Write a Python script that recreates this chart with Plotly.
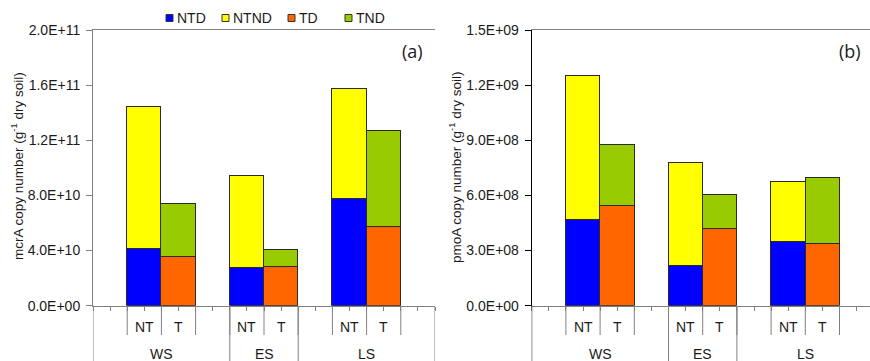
import plotly.graph_objects as go

# ---- data ----
seasons = ["WS", "ES", "LS"]
treatments = ["NT", "T"]
series_names = ["NTD", "NTND", "TD", "TND"]
series_colors = ["#0000FF", "#FFFF00", "#FF6600", "#99CC00"]

mcra_NTD = [4.10e10, 2.72e10, 7.74e10]
mcra_NTND = [1.028e11, 6.66e10, 8.00e10]
mcra_TD = [3.56e10, 2.79e10, 5.70e10]
mcra_TND = [3.84e10, 1.26e10, 6.98e10]

pmoa_NTD = [4.64e8, 2.15e8, 3.44e8]
pmoa_NTND = [7.85e8, 5.62e8, 3.27e8]
pmoa_TD = [5.44e8, 4.15e8, 3.36e8]
pmoa_TND = [3.29e8, 1.87e8, 3.61e8]

mcra_ticks = [0, 4.0e10, 8.0e10, 1.2e11, 1.6e11, 2.0e11]
pmoa_ticks = [0, 3.0e8, 6.0e8, 9.0e8, 1.2e9, 1.5e9]

# ---- layout helpers ----
W, H = 870, 361
FONT = "Liberation Sans, Arial, sans-serif"
TXT = "#1a1a1a"

def px_x(p):
    return p / W

def px_y(p):
    return (H - p) / H

def label(xref, x, y, text, size=14, family=FONT, xanchor="center", angle=0):
    return dict(xref=xref, yref="paper", x=x, y=y, text=text, showarrow=False,
                xanchor=xanchor, yanchor="middle", textangle=angle,
                font=dict(family=family, size=size, color=TXT))

# category slot positions: each season occupies NT, T with one empty slot between groups
nt_pos = [3 * i + 1 for i in range(len(seasons))]
t_pos = [3 * i + 2 for i in range(len(seasons))]

fig = go.Figure()

panels = [
    ("x", "y", [mcra_NTD, mcra_NTND, mcra_TD, mcra_TND]),
    ("x2", "y2", [pmoa_NTD, pmoa_NTND, pmoa_TD, pmoa_TND]),
]
for xa, ya, vals in panels:
    for k, (name, col, v) in enumerate(zip(series_names, series_colors, vals)):
        xs = nt_pos if k < 2 else t_pos
        fig.add_trace(go.Bar(
            x=xs, y=v, name=name, xaxis=xa, yaxis=ya, width=1.0,
            marker=dict(color=col, line=dict(color="#2a2a2a", width=1)),
            showlegend=False,
        ))

dom_a = [px_x(93), px_x(435)]
dom_b = [px_x(531.7), 1.0]
dom_y = [px_y(305.7), px_y(30)]

slot_px = (435 - 93) / 10.0
xr_a = [-0.5, 9.5]
xr_b = [-0.5, -0.5 + (870 - 531.7) / slot_px]

def xaxis_cfg(dom, rng, anchor):
    return dict(domain=dom, range=rng, showgrid=False, zeroline=False,
                showline=True, linecolor="#808080", linewidth=1, mirror=True,
                ticks="outside", ticklen=4, tickcolor="#808080",
                tick0=-0.5, dtick=0.5, showticklabels=False, fixedrange=True,
                anchor=anchor)

def yaxis_cfg(dom, rng, tv, linecol, anchor):
    return dict(domain=dom, range=rng, showgrid=False, zeroline=False,
                showline=True, linecolor=linecol, linewidth=1, mirror=False,
                ticks="outside", ticklen=6, tickcolor=linecol,
                tickvals=tv, ticktext=[f"{t:.1E}" for t in tv],
                tickfont=dict(family=FONT, size=14, color=TXT),
                ticklabelstandoff=3,
                anchor=anchor, automargin=False)

fig.update_layout(
    width=W, height=H, margin=dict(l=0, r=0, t=0, b=0, autoexpand=False),
    paper_bgcolor="white", plot_bgcolor="white",
    barmode="stack", bargap=0, showlegend=False,
    font=dict(family=FONT, size=14, color=TXT),
    xaxis=xaxis_cfg(dom_a, xr_a, "y"),
    yaxis=yaxis_cfg(dom_y, [0, 2.0e11], mcra_ticks, "#808080", "x"),
    xaxis2=xaxis_cfg(dom_b, xr_b, "y2"),
    yaxis2=yaxis_cfg(dom_y, [0, 1.5e9], pmoa_ticks, "#000000", "x2"),
)

shapes = []
annotations = []
y_zero = px_y(305.7)
y_short = px_y(335)
for xr, col_left in [("x", "#808080"), ("x2", "#000000")]:
    # short separators around NT / T labels
    for a, b in zip(nt_pos, t_pos):
        for xv in (a - 0.5, a + 0.5, b + 0.5):
            shapes.append(dict(type="line", xref=xr, yref="paper", x0=xv, x1=xv,
                               y0=y_zero, y1=y_short,
                               line=dict(color="#808080", width=1)))
    # long group separators
    bounds = [-0.5, nt_pos[1] - 0.5, t_pos[1] + 0.5, 9.5]
    for i, xv in enumerate(bounds):
        shapes.append(dict(type="line", xref=xr, yref="paper", x0=xv, x1=xv,
                           y0=y_zero, y1=0,
                           line=dict(color=col_left if i == 0 else "#808080", width=1)))
    # labels
    for a, b, s in zip(nt_pos, t_pos, seasons):
        annotations.append(label(xr, a, px_y(326.5), treatments[0]))
        annotations.append(label(xr, b, px_y(326.5), treatments[1]))
        annotations.append(label(xr, (a + b) / 2, px_y(354), s))

# custom legend (small squares + labels)
leg_sq_x = [166, 222, 288, 345]
for name, col, sx in zip(series_names, series_colors, leg_sq_x):
    shapes.append(dict(type="rect", xref="paper", yref="paper",
                       x0=px_x(sx), x1=px_x(sx + 7), y0=px_y(21.5), y1=px_y(14.5),
                       fillcolor=col, line=dict(color="#333", width=1)))
    annotations.append(label("paper", px_x(sx + 9), px_y(18), name, xanchor="left"))

annotations.append(label("paper", px_x(412), px_y(51), "(a)", size=18,
                         family="Open Sans, sans-serif"))
annotations.append(label("paper", px_x(850), px_y(51), "(b)", size=18,
                         family="Open Sans, sans-serif"))
annotations.append(label("paper", px_x(17), px_y(166),
                         "mcrA copy number (g<sup>-1</sup> dry soil)", size=13.5, angle=-90))
annotations.append(label("paper", px_x(455), px_y(167),
                         "pmoA copy number (g<sup>-1</sup> dry soil)", size=13.5, angle=-90))

fig.update_layout(shapes=shapes, annotations=annotations)
fig.write_html("out.html", config={"displayModeBar": False},
               post_script="document.body.style.margin='0';document.body.style.padding='0';")
